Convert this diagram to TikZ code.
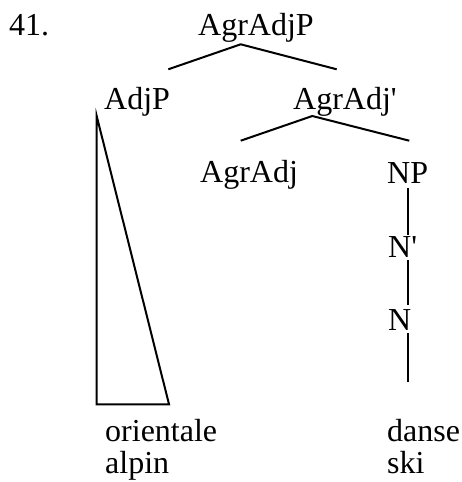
\documentclass[tikz,border=0pt]{standalone}
\usepackage{fontspec}
\setmainfont[Ligatures=TeXOff]{Liberation Serif}
\begin{document}
\begin{tikzpicture}[x=1pt,y=-1pt,
  lbl/.style={anchor=base west,inner sep=0pt,font=\fontsize{32}{36}\selectfont},
  branch/.style={line width=2pt,line cap=butt,line join=miter}]
\useasboundingbox (0,0) rectangle (462,482);
% labels
\node[lbl] (ex) at (9,35) {41.};
\node[lbl] (root) at (198,35) {AgrAdjP};
\node[lbl] (adjp) at (104,109) {AdjP};
\node[lbl] (agrbar) at (293,109) {AgrAdj'};
\node[lbl] (agradj) at (200,182) {AgrAdj};
\node[lbl] (np) at (387,183) {NP};
\node[lbl] (nbar) at (388,257) {N'};
\node[lbl] (n) at (388,330) {N};
\node[lbl] (or) at (105,441) {orientale};
\node[lbl] (al) at (105,473) {alpin};
\node[lbl] (da) at (387,441) {danse};
\node[lbl] (sk) at (387,473) {ski};
% branch points
\coordinate (r0) at (240.7,44.3);
\coordinate (rl) at (168.3,69.3);
\coordinate (rr) at (336.7,69.3);
\coordinate (b0) at (312.3,116);
\coordinate (bl) at (240.7,140.7);
\coordinate (br) at (409.3,140.7);
\coordinate (t0) at (96.7,116);
\coordinate (t1) at (96.7,404.3);
\coordinate (t2) at (169,404.3);
\coordinate (v1a) at (408.3,188);
\coordinate (v1b) at (408.3,235);
\coordinate (v2a) at (408.3,260);
\coordinate (v2b) at (408.3,305);
\coordinate (v3a) at (408.3,333);
\coordinate (v3b) at (408.3,382);
% connectors
\draw[branch] (rl) -- (r0) -- (rr);
\draw[branch] (bl) -- (b0) -- (br);
\draw[branch] (t0) -- (t1) -- (t2) -- cycle;
\draw[branch] (v1a) -- (v1b);
\draw[branch] (v2a) -- (v2b);
\draw[branch] (v3a) -- (v3b);
\end{tikzpicture}
\end{document}
